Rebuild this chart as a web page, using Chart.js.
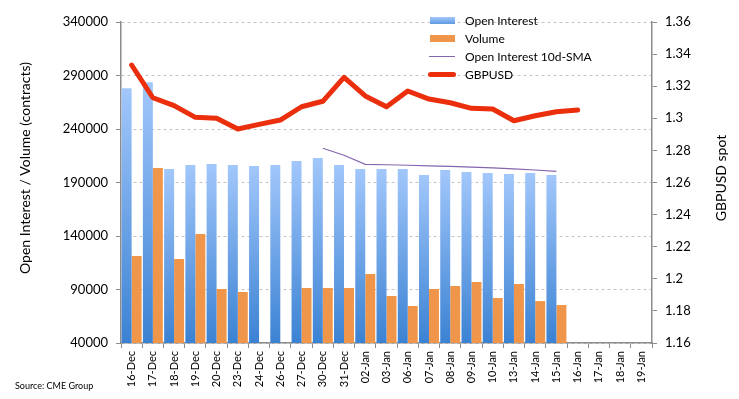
<!DOCTYPE html>
<html>
<head>
<meta charset="utf-8">
<script src="https://cdn.jsdelivr.net/npm/chart.js@4.4.1/dist/chart.umd.min.js"></script>
<style>
  body { margin: 0; background: #fff; font-family: Lato, sans-serif; }
  #wrap { position: relative; width: 739px; height: 399px; }
  #legend { position: absolute; left: 428px; top: 11px; font-size: 12px; color: #000; }
  #legend .row { height: 18px; display: flex; align-items: center; }
  #legend .sw { width: 28px; margin-right: 9px; display: flex; align-items: center; justify-content: center; }
</style>
</head>
<body>
<div id="wrap">
  <canvas id="oiChart" width="739" height="399"></canvas>
  <div id="legend"></div>
</div>
<script>
const dates = ['16-Dec', '17-Dec', '18-Dec', '19-Dec', '20-Dec', '23-Dec', '24-Dec', '26-Dec', '27-Dec', '30-Dec', '31-Dec',
    '02-Jan', '03-Jan', '06-Jan', '07-Jan', '08-Jan', '09-Jan', '10-Jan', '13-Jan', '14-Jan', '15-Jan',
    '16-Jan', '17-Jan', '18-Jan', '19-Jan'];

const openInterest = [278000, 283600, 202600, 206400, 207300, 206400, 205400, 206400, 210100, 212900, 206400,
    202600, 202600, 202600, 197000, 201700, 199800, 198900, 198000, 198900, 197000,
    null, null, null, null];

const volume = [121300, 203600, 118500, 141900, 90500, 87700, null, null, 91400, 91400, 91400,
    104500, 84000, 74600, 90500, 93300, 97000, 82100, 95100, 79200, 75500,
    null, null, null, null];

const oiSma = [null, null, null, null, null, null, null, null, null, 222000, 215500,
    207000, 206600, 206100, 205600, 205100, 204400, 203600, 202700, 201700, 200400,
    null, null, null, null];

const gbpusd = [1.3332, 1.3128, 1.3079, 1.3006, 1.3000, 1.2933, 1.2962, 1.2989, 1.3072, 1.3106, 1.3255,
    1.3139, 1.3072, 1.3170, 1.3120, 1.3097, 1.3062, 1.3058, 1.2985, 1.3016, 1.3041,
    1.3052, null, null, null];

const leftTicks = [40000, 90000, 140000, 190000, 240000, 290000, 340000];

const axisGray = '#8c8c8c';
const textFont = 'Lato, sans-serif';

// per-bar blue gradient, light at the top of each bar
function blueGradient(context) {
    const chart = context.chart;
    const area = chart.chartArea;
    if (!area || context.raw == null) return '#7fb0ee';
    const top = chart.scales.y.getPixelForValue(context.raw);
    const g = chart.ctx.createLinearGradient(0, top, 0, area.bottom);
    g.addColorStop(0, '#a2c7fb');
    g.addColorStop(1, '#3b82d3');
    return g;
}

// axis titles and source note
const sideText = {
    id: 'sideText',
    afterDraw(chart) {
        const c = chart.ctx;
        c.save();
        c.fillStyle = '#000';
        c.textAlign = 'center';
        c.textBaseline = 'middle';
        c.font = '14px ' + textFont;
        c.translate(25, 168);
        c.rotate(-Math.PI / 2);
        c.fillText('Open Interest / Volume (contracts)', 0, 0);
        c.restore();

        c.save();
        c.fillStyle = '#000';
        c.textAlign = 'center';
        c.textBaseline = 'middle';
        c.font = '14px ' + textFont;
        c.translate(721, 178);
        c.rotate(-Math.PI / 2);
        c.fillText('GBPUSD spot', 0, 0);
        c.restore();

        c.save();
        c.fillStyle = '#000';
        c.textAlign = 'left';
        c.textBaseline = 'middle';
        c.font = '9px ' + textFont;
        c.fillText('Source: CME Group', 15, 386);
        c.restore();
    }
};

const ctx = document.getElementById('oiChart').getContext('2d');
const oiChart = new Chart(ctx, {
    type: 'bar',
    data: {
        labels: dates,
        datasets: [
            {
                type: 'line',
                label: 'GBPUSD',
                data: gbpusd,
                yAxisID: 'y1',
                borderColor: '#eb2e0c',
                backgroundColor: '#eb2e0c',
                borderWidth: 5,
                borderJoinStyle: 'round',
                borderCapStyle: 'round',
                pointRadius: 0,
                tension: 0,
                order: 0
            },
            {
                type: 'line',
                label: 'Open Interest 10d-SMA',
                data: oiSma,
                yAxisID: 'y',
                borderColor: '#8565ae',
                backgroundColor: '#8565ae',
                borderWidth: 1.2,
                pointRadius: 0,
                tension: 0,
                order: 1
            },
            {
                label: 'Open Interest',
                data: openInterest,
                yAxisID: 'y',
                backgroundColor: blueGradient,
                categoryPercentage: 0.94,
                barPercentage: 1.0,
                order: 2
            },
            {
                label: 'Volume',
                data: volume,
                yAxisID: 'y',
                backgroundColor: '#f0964a',
                categoryPercentage: 0.94,
                barPercentage: 1.0,
                order: 3
            }
        ]
    },
    options: {
        responsive: false,
        animation: false,
        layout: { padding: { top: 22, left: 0, right: 0, bottom: 0 } },
        plugins: {
            legend: { display: false },
            tooltip: { enabled: false }
        },
        scales: {
            x: {
                grid: {
                    offset: true,
                    drawOnChartArea: false,
                    tickLength: 5,
                    tickColor: axisGray
                },
                border: { color: axisGray, width: 1.5 },
                ticks: {
                    minRotation: 90,
                    maxRotation: 90,
                    autoSkip: false,
                    padding: 3,
                    color: '#000',
                    font: { family: textFont, size: 11 }
                },
                afterFit(scale) { scale.height = 56; }
            },
            y: {
                position: 'left',
                min: 40000,
                max: 340000,
                afterBuildTicks(scale) {
                    scale.ticks = leftTicks.map(v => ({ value: v }));
                },
                grid: {
                    color: '#c4c4c4',
                    tickColor: axisGray,
                    tickLength: 5
                },
                border: { color: axisGray, width: 1.5, dash: [3, 3] },
                ticks: {
                    padding: 8,
                    color: '#000',
                    font: { family: textFont, size: 13 },
                    callback: v => String(v)
                },
                afterFit(scale) { scale.width = 121; }
            },
            y1: {
                position: 'right',
                min: 1.16,
                max: 1.36,
                grid: {
                    drawOnChartArea: false,
                    tickColor: axisGray,
                    tickLength: 5
                },
                border: { color: axisGray, width: 1.5 },
                ticks: {
                    stepSize: 0.02,
                    padding: 8,
                    color: '#000',
                    font: { family: textFont, size: 13 },
                    callback: v => String(parseFloat(v.toFixed(2)))
                },
                afterFit(scale) { scale.width = 87; }
            }
        }
    },
    plugins: [sideText]
});

// legend in the order the picture shows
const legendItems = [
    { label: 'Open Interest', swatch: 'width:25px;height:7px;background:linear-gradient(#a2c7fb,#5f9be2);' },
    { label: 'Volume', swatch: 'width:25px;height:7px;background:#f0964a;' },
    { label: 'Open Interest 10d-SMA', swatch: 'width:26px;height:1px;background:#8565ae;' },
    { label: 'GBPUSD', swatch: 'width:28px;height:5px;border-radius:3px;background:#eb2e0c;' }
];
const legendEl = document.getElementById('legend');
legendItems.forEach(item => {
    const row = document.createElement('div');
    row.className = 'row';
    row.innerHTML = '<span class="sw"><span style="display:block;' + item.swatch + '"></span></span><span>' + item.label + '</span>';
    legendEl.appendChild(row);
});
</script>
</body>
</html>
